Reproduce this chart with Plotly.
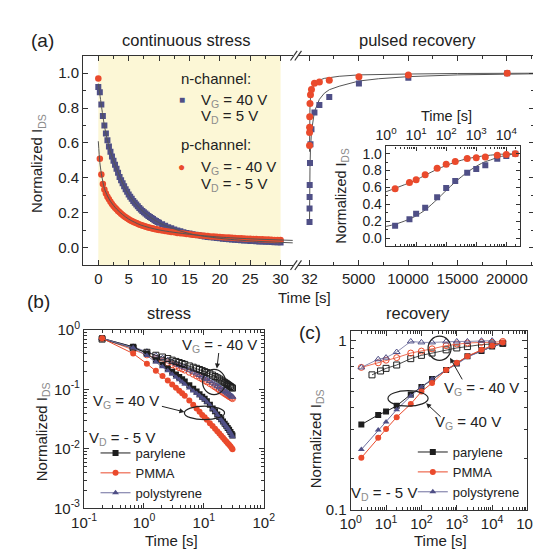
import plotly.graph_objects as go

W, H = 541, 550
FONT = "Liberation Sans, Arial, sans-serif"
TXT = "#222222"
SUBC = "#8c8c8c"
BLUE = "#4f4f86"
RED = "#ea4a2c"
BLACK = "#1e1e1e"
PSL = "#6e6e9e"
GRAY = "#555555"
YELLOW = "#fcf7d6"

# ---------------- panel (a): continuous stress ----------------
stress_t = [0, 0.25, 0.5, 0.75, 1, 1.25, 1.5, 1.75, 2, 2.25, 2.5, 2.75, 3, 3.25, 3.5, 3.75, 4,
            4.25, 4.5, 4.75, 5, 5.25, 5.5, 5.75, 6, 6.25, 6.5, 6.75, 7, 7.25, 7.5, 7.75, 8,
            8.25, 8.5, 8.75, 9, 9.25, 9.5, 9.75, 10,
            10.5, 11, 11.5, 12, 12.5, 13, 13.5, 14, 14.5, 15, 15.5, 16, 16.5, 17, 17.5, 18, 18.5, 19, 19.5, 20,
            20.5, 21, 21.5, 22, 22.5, 23, 23.5, 24, 24.5, 25, 25.5, 26, 26.5, 27, 27.5, 28, 28.5, 29, 29.5, 30]
stress_n = [0.92, 0.89, 0.82, 0.755, 0.70, 0.655, 0.615, 0.58, 0.55, 0.523, 0.498, 0.475, 0.453, 0.429, 0.405, 0.387, 0.37,
            0.352, 0.335, 0.32, 0.305, 0.292, 0.28, 0.268, 0.257, 0.247, 0.237, 0.228, 0.219, 0.211, 0.203, 0.196, 0.189,
            0.182, 0.176, 0.17, 0.164, 0.158, 0.153, 0.148, 0.143,
            0.134, 0.126, 0.118, 0.111, 0.105, 0.099, 0.094, 0.089, 0.085, 0.081, 0.077, 0.074, 0.071, 0.068, 0.065, 0.062, 0.06, 0.058, 0.056, 0.054,
            0.052, 0.05, 0.049, 0.047, 0.046, 0.044, 0.043, 0.042, 0.041, 0.039, 0.038, 0.037, 0.036, 0.035, 0.034, 0.034, 0.033, 0.032, 0.031, 0.03]
stress_p = [0.97, 0.51, 0.42, 0.365, 0.333, 0.31, 0.292, 0.277, 0.263, 0.25, 0.239, 0.229, 0.22, 0.211, 0.203, 0.195, 0.188,
            0.181, 0.175, 0.169, 0.163, 0.158, 0.153, 0.149, 0.145, 0.141, 0.137, 0.133, 0.13, 0.127, 0.124, 0.121, 0.119,
            0.116, 0.114, 0.112, 0.11, 0.108, 0.106, 0.104, 0.102,
            0.099, 0.096, 0.093, 0.09, 0.088, 0.085, 0.083, 0.081, 0.079, 0.077, 0.075, 0.073, 0.072, 0.07, 0.068, 0.067, 0.065, 0.064, 0.063, 0.061,
            0.06, 0.059, 0.058, 0.057, 0.056, 0.055, 0.054, 0.053, 0.052, 0.051, 0.05, 0.05, 0.049, 0.048, 0.047, 0.047, 0.046, 0.045, 0.045, 0.044]
stress_fit_t = [0, 0.25, 0.5, 1, 1.5, 2, 3, 4, 5, 7, 10, 15, 20, 25, 32]
stress_fit_n = [0.94, 0.88, 0.815, 0.70, 0.615, 0.55, 0.453, 0.37, 0.305, 0.219, 0.143, 0.081, 0.054, 0.039, 0.028]
stress_fit_p = [0.61, 0.49, 0.425, 0.34, 0.297, 0.266, 0.222, 0.19, 0.164, 0.13, 0.102, 0.077, 0.061, 0.051, 0.042]
STRESS_END = 30

# ---------------- panel (a): pulsed recovery (+ inset) ----------------
rec_t = [2, 6, 10, 20, 50, 100, 200, 500, 1000, 2000, 5000, 10000, 20000]
rec_n = [0.147, 0.225, 0.29, 0.36, 0.485, 0.593, 0.678, 0.775, 0.817, 0.864, 0.94, 0.973, 1.0]
rec_p = [0.585, 0.66, 0.69, 0.75, 0.826, 0.876, 0.907, 0.942, 0.95, 0.96, 0.98, 0.99, 1.0]
rec_fit_t = [1, 2, 5, 10, 20, 50, 100, 200, 500, 1000, 1500, 2000, 3000, 5000, 7000, 10000, 15000, 20000, 25000]
rec_fit_n = [0.14, 0.165, 0.215, 0.265, 0.335, 0.46, 0.565, 0.665, 0.78, 0.85, 0.885, 0.905, 0.925, 0.955, 0.968, 0.98, 0.99, 0.995, 0.998]
rec_fit_p = [0.55, 0.59, 0.645, 0.69, 0.745, 0.815, 0.86, 0.9, 0.94, 0.96, 0.97, 0.975, 0.982, 0.99, 0.993, 0.995, 0.998, 1.0, 1.0]

# ---------------- panel (b): stress, log-log ----------------
b_t = [0.2, 0.66, 1.12, 1.58, 2.04, 2.5, 2.96, 3.42, 3.88, 4.34, 4.8,
       5.72, 6.64, 7.56, 8.48, 9.4, 10.32, 11.24,
       12.62, 14.0, 15.38, 16.76, 18.14, 19.52, 20.9, 22.28, 23.66, 25.04, 26.42, 27.8, 29.18, 30.1]
b_par_f = [0.72, 0.52, 0.40, 0.31, 0.26, 0.225, 0.198, 0.178, 0.162, 0.148, 0.136,
           0.117, 0.103, 0.092, 0.083, 0.075, 0.07, 0.063,
           0.055, 0.048, 0.043, 0.038, 0.0345, 0.0315, 0.029, 0.0265, 0.0245, 0.0225, 0.021, 0.0192, 0.0178, 0.0168]
b_pmma_f = [0.72, 0.40, 0.27, 0.205, 0.168, 0.141, 0.121, 0.107, 0.095, 0.086, 0.078,
            0.065, 0.055, 0.048, 0.042, 0.037, 0.034, 0.031,
            0.027, 0.0242, 0.0218, 0.0198, 0.0181, 0.0166, 0.0154, 0.0143, 0.0134, 0.0125, 0.0118, 0.0111, 0.0104, 0.0099]
b_ps_f = [0.72, 0.50, 0.37, 0.29, 0.24, 0.205, 0.18, 0.16, 0.145, 0.133, 0.122,
          0.106, 0.094, 0.085, 0.078, 0.072, 0.067, 0.061,
          0.054, 0.047, 0.042, 0.037, 0.0335, 0.0305, 0.028, 0.0258, 0.0238, 0.022, 0.0203, 0.0187, 0.0172, 0.016]
b_par_o = [0.70, 0.50, 0.42, 0.375, 0.35, 0.33, 0.31, 0.295, 0.283, 0.272, 0.263,
           0.248, 0.236, 0.226, 0.216, 0.207, 0.199, 0.192,
           0.183, 0.174, 0.165, 0.157, 0.15, 0.143, 0.137, 0.131, 0.126, 0.121, 0.116, 0.112, 0.108, 0.105]
b_pmma_o = [0.72, 0.47, 0.38, 0.33, 0.30, 0.278, 0.26, 0.245, 0.232, 0.221, 0.211,
            0.194, 0.18, 0.168, 0.158, 0.149, 0.141, 0.134,
            0.125, 0.117, 0.11, 0.104, 0.098, 0.093, 0.089, 0.085, 0.082, 0.079, 0.076, 0.074, 0.072, 0.07]
b_ps_o = [0.72, 0.52, 0.43, 0.37, 0.335, 0.31, 0.29, 0.272, 0.257, 0.244, 0.233,
          0.214, 0.199, 0.186, 0.175, 0.165, 0.157, 0.149,
          0.139, 0.13, 0.122, 0.115, 0.109, 0.103, 0.098, 0.094, 0.09, 0.086, 0.083, 0.08, 0.077, 0.075]

# ---------------- panel (c): recovery, log-log ----------------
c_t = [2, 6, 10, 20, 50, 100, 200, 500, 1000, 2000, 5000, 10000, 20000]
c_par_o_t = [4, 7, 10, 20, 50, 100, 200, 500, 1000, 2000, 5000, 10000, 20000]
c_ps_o_t = [2, 6, 10, 20, 50, 100, 200, 500, 1000, 2000, 5000, 10000]
c_par_f = [0.319, 0.364, 0.381, 0.412, 0.481, 0.533, 0.593, 0.671, 0.733, 0.809, 0.868, 0.923, 0.964]
c_pmma_f = [0.203, 0.267, 0.30, 0.353, 0.422, 0.50, 0.562, 0.671, 0.74, 0.81, 0.883, 0.935, 0.977]
c_ps_f = [0.227, 0.296, 0.33, 0.391, 0.471, 0.533, 0.593, 0.671, 0.725, 0.80, 0.868, 0.923, 0.964]
c_par_o = [0.628, 0.662, 0.686, 0.718, 0.783, 0.819, 0.845, 0.883, 0.906, 0.923, 0.948, 0.956, 0.964]
c_pmma_o = [0.695, 0.74, 0.767, 0.794, 0.845, 0.868, 0.895, 0.935, 0.956, 0.969, 0.977, 0.977, 0.99]
c_ps_o = [0.695, 0.777, 0.794, 0.857, 0.99, 0.977, 0.977, 0.99, 0.99, 0.99, 1.0, 1.0]

materials = ["parylene", "PMMA", "polystyrene"]


def X(px):
    return px / W


def Y(py):
    return 1 - py / H


def sup_labels(exps):
    return ["10<sup>%d</sup>" % e for e in exps]


def log_minor(lo, hi):
    vals = []
    for e in range(lo, hi):
        for m in range(2, 10):
            vals.append(m * 10 ** e)
    return vals


fig = go.Figure()

# ---- (a) stress segment
fig.add_trace(go.Scatter(x=stress_t, y=stress_n, mode="markers", xaxis="x", yaxis="y",
                         marker=dict(symbol="square", size=6, color=BLUE), showlegend=False))
fig.add_trace(go.Scatter(x=stress_t, y=stress_p, mode="markers", xaxis="x", yaxis="y",
                         marker=dict(symbol="circle", size=6.5, color=RED), showlegend=False))
for fy in (stress_fit_n, stress_fit_p):
    fig.add_trace(go.Scatter(x=stress_fit_t, y=fy, mode="lines", xaxis="x", yaxis="y",
                             line=dict(color=GRAY, width=1, shape="spline", smoothing=0.8),
                             showlegend=False))

# ---- (a) recovery segment
rec_x = [STRESS_END + t for t in rec_t]
rec_fit_x = [STRESS_END + t for t in rec_fit_t]
for fy in (rec_fit_n, rec_fit_p):
    fig.add_trace(go.Scatter(x=rec_fit_x, y=fy, mode="lines", xaxis="x2", yaxis="y2",
                             line=dict(color=GRAY, width=1), showlegend=False))
fig.add_trace(go.Scatter(x=rec_x, y=rec_n, mode="markers", xaxis="x2", yaxis="y2",
                         marker=dict(symbol="square", size=6, color=BLUE), showlegend=False))
fig.add_trace(go.Scatter(x=rec_x, y=rec_p, mode="markers", xaxis="x2", yaxis="y2",
                         marker=dict(symbol="circle", size=7, color=RED), showlegend=False))

# ---- (a) inset
for fy in (rec_fit_n, rec_fit_p):
    fig.add_trace(go.Scatter(x=rec_fit_t, y=fy, mode="lines", xaxis="x3", yaxis="y3",
                             line=dict(color=GRAY, width=1, shape="spline", smoothing=0.8),
                             showlegend=False))
fig.add_trace(go.Scatter(x=rec_t, y=rec_n, mode="markers", xaxis="x3", yaxis="y3",
                         marker=dict(symbol="square", size=6, color=BLUE), showlegend=False))
fig.add_trace(go.Scatter(x=rec_t, y=rec_p, mode="markers", xaxis="x3", yaxis="y3",
                         marker=dict(symbol="circle", size=7, color=RED), showlegend=False))

# ---- (b)
colors = {"parylene": BLACK, "PMMA": RED, "polystyrene": BLUE}
lines = {"parylene": BLACK, "PMMA": RED, "polystyrene": PSL}
symbols = {"parylene": "square", "PMMA": "circle", "polystyrene": "triangle-up"}
b_open = {"parylene": b_par_o, "PMMA": b_pmma_o, "polystyrene": b_ps_o}
b_fill = {"parylene": b_par_f, "PMMA": b_pmma_f, "polystyrene": b_ps_f}
for m in ["PMMA", "polystyrene", "parylene"]:
    fig.add_trace(go.Scatter(x=b_t, y=b_open[m], mode="lines+markers", xaxis="x4", yaxis="y4",
                             line=dict(color=lines[m], width=0.8),
                             marker=dict(symbol=symbols[m] + "-open", size=6, color=colors[m],
                                         line=dict(width=1, color=colors[m])),
                             showlegend=False))
rank = {"parylene": 1, "PMMA": 2, "polystyrene": 3}
for m in ["parylene", "polystyrene", "PMMA"]:
    fig.add_trace(go.Scatter(x=b_t, y=b_fill[m], mode="lines+markers", xaxis="x4", yaxis="y4",
                             line=dict(color=lines[m], width=1),
                             marker=dict(symbol=symbols[m], size=6, color=colors[m]),
                             name=m, legend="legend", legendrank=rank[m], showlegend=True))

# ---- (c)
c_open = {"parylene": (c_par_o_t, c_par_o), "PMMA": (c_t, c_pmma_o), "polystyrene": (c_ps_o_t, c_ps_o)}
c_fill = {"parylene": c_par_f, "PMMA": c_pmma_f, "polystyrene": c_ps_f}
for m in ["parylene", "PMMA", "polystyrene"]:
    tx, ty = c_open[m]
    fig.add_trace(go.Scatter(x=tx, y=ty, mode="lines+markers", xaxis="x5", yaxis="y5",
                             line=dict(color=lines[m], width=0.8),
                             marker=dict(symbol=symbols[m] + "-open", size=6, color=colors[m],
                                         line=dict(width=1, color=colors[m])),
                             showlegend=False))
for m in ["parylene", "polystyrene", "PMMA"]:
    fig.add_trace(go.Scatter(x=c_t, y=c_fill[m], mode="lines+markers", xaxis="x5", yaxis="y5",
                             line=dict(color=lines[m], width=1),
                             marker=dict(symbol=symbols[m], size=6, color=colors[m]),
                             name=m, legend="legend2", legendrank=rank[m], showlegend=True))

# ---------------- axes ----------------
tickfont = dict(family=FONT, size=15, color=TXT)
base = dict(showline=True, linecolor="#333333", linewidth=1.2, ticks="inside", ticklen=5,
            tickwidth=1, tickcolor="#333333", showgrid=False, zeroline=False, tickfont=tickfont)

ya_dom = [Y(255), Y(38)]
ya_vals = [0, 0.2, 0.4, 0.6, 0.8, 1.0]
ya_text = ["%.1f" % v for v in ya_vals]
ya_minor = dict(ticks="inside", ticklen=3, tickcolor="#333333", dtick=0.1, tick0=0)

fig.update_layout(
    xaxis=dict(base, domain=[X(65), X(285)], range=[-2.5, 32.1], anchor="y",
               tickvals=[0, 5, 10, 15, 20, 25, 30], mirror="allticks",
               minor=dict(ticks="inside", ticklen=3, tickcolor="#333333", dtick=2.5, tick0=0)),
    yaxis=dict(base, domain=ya_dom, range=[-0.1, 1.1], anchor="x", tickvals=ya_vals,
               ticktext=ya_text, minor=ya_minor),
    xaxis2=dict(base, domain=[X(290), X(537)], range=[-1120, 22760], anchor="y2",
                tickvals=[32, 5000, 10000, 15000, 20000], ticktext=["32", "5000", "10000", "15000", "20000"],
                mirror="allticks",
                minor=dict(ticks="inside", ticklen=3, tickcolor="#333333",
                           tickvals=[2500, 7500, 12500, 17500, 22500])),
    yaxis2=dict(base, domain=ya_dom, range=[-0.1, 1.1], anchor="x2", side="right",
                tickvals=ya_vals, showticklabels=False, minor=ya_minor),
    xaxis3=dict(base, domain=[X(381.7), X(522)], type="log", range=[-0.01, 4.45], anchor="y3",
                side="top", tickvals=[1, 10, 100, 1000, 10000], ticktext=sup_labels(range(0, 5)),
                mirror="allticks", tickfont=dict(family=FONT, size=14, color=TXT), ticklen=4,
                minor=dict(ticks="inside", ticklen=2, tickcolor="#333333", tickvals=log_minor(0, 5))),
    yaxis3=dict(base, domain=[Y(235), Y(132)], range=[-0.09, 1.085], anchor="x3",
                tickvals=ya_vals, ticktext=ya_text, mirror="allticks", ticklen=4,
                tickfont=dict(family=FONT, size=14, color=TXT),
                minor=dict(ticks="inside", ticklen=2, tickcolor="#333333", dtick=0.1, tick0=0)),
    xaxis4=dict(base, domain=[X(66), X(254)], type="log", range=[-1, 2], anchor="y4",
                tickvals=[0.1, 1, 10, 100], ticktext=sup_labels([-1, 0, 1, 2]), mirror="allticks",
                minor=dict(ticks="inside", ticklen=3, tickcolor="#333333", tickvals=log_minor(-1, 2))),
    yaxis4=dict(base, domain=[Y(507), Y(322)], type="log", range=[-3, 0], anchor="x4",
                tickvals=[0.001, 0.01, 0.1, 1], ticktext=sup_labels([-3, -2, -1, 0]), mirror="allticks",
                minor=dict(ticks="inside", ticklen=3, tickcolor="#333333", tickvals=log_minor(-3, 0))),
    xaxis5=dict(base, domain=[X(345), X(530)], type="log", range=[0, 5], anchor="y5",
                tickvals=[1, 10, 100, 1000, 10000, 100000], ticktext=sup_labels(range(0, 6)),
                mirror="allticks",
                minor=dict(ticks="inside", ticklen=3, tickcolor="#333333", tickvals=log_minor(0, 5))),
    yaxis5=dict(base, domain=[Y(508.3), Y(322.7)], type="log", range=[-1, 0.06], anchor="x5",
                tickvals=[0.1, 1], ticktext=["0.1", "1"], mirror="allticks",
                minor=dict(ticks="inside", ticklen=3, tickcolor="#333333", tickvals=log_minor(-1, 0))),
)

# ---------------- shapes ----------------
shapes = [dict(type="rect", xref="x", yref="y domain", x0=0, x1=STRESS_END, y0=0, y1=1,
               fillcolor=YELLOW, line=dict(width=0), layer="below")]
for by in (38, 255):
    for dx in (0, 4.5):
        shapes.append(dict(type="line", xref="paper", yref="paper",
                           x0=X(282 + dx), y0=Y(by + 5), x1=X(289 + dx), y1=Y(by - 5),
                           line=dict(color="#333333", width=1.2)))
ellipses = [(202, 376, 12, 13), (192, 408, 21, 7), (438, 341, 12, 12.5), (405, 393, 21, 8)]
for cx, cy, rx, ry in ellipses:
    shapes.append(dict(type="circle", xref="paper", yref="paper",
                       x0=X(cx - rx), x1=X(cx + rx), y0=Y(cy + ry), y1=Y(cy - ry),
                       line=dict(color="#222222", width=1.2)))
fig.update_layout(shapes=shapes)

# ---------------- annotations ----------------
ann = []


def text(px, py, s, size=15, xanchor="center", angle=0, color=TXT):
    ann.append(dict(x=X(px), y=Y(py), xref="paper", yref="paper", text=s, showarrow=False,
                    xanchor=xanchor, yanchor="middle", textangle=angle,
                    font=dict(family=FONT, size=size, color=color)))


def arrow(hx, hy, tx, ty):
    ann.append(dict(x=X(hx), y=Y(hy), xref="paper", yref="paper", text="", showarrow=True,
                    axref="pixel", ayref="pixel", ax=tx - hx, ay=ty - hy,
                    arrowhead=2, arrowsize=1, arrowwidth=1, arrowcolor="#222222"))


def sub(letter):
    return "<sub><span style='color:%s'>%s</span></sub>" % (SUBC, letter)


nds = "Normalized I" + sub("DS")
text(22, 22, "(a)", 19)
text(173, 22, "continuous stress", 16.5)
text(415, 22, "pulsed recovery", 16.5)
text(18, 150, nds, 15, angle=-90)
text(297, 288, "Time [s]", 15)
text(445, 100, "Time [s]", 14.5)
text(336, 183, nds, 14.5, angle=-90)
text(165, 62, "n-channel:", 15, xanchor="left")
text(168, 83, "■", 10, color=BLUE)
text(186, 84, "V" + sub("G") + " = 40 V", 15, xanchor="left")
text(186, 101, "V" + sub("D") + " = 5 V", 15, xanchor="left")
text(165, 130, "p-channel:", 15, xanchor="left")
text(168, 153, "●", 12, color=RED)
text(186, 154, "V" + sub("G") + " = - 40 V", 15, xanchor="left")
text(186, 171, "V" + sub("D") + " = - 5 V", 15, xanchor="left")

text(18, 293, "(b)", 19)
text(155, 305, "stress", 16.5)
text(22, 428, nds, 15, angle=-90)
text(157, 540, "Time [s]", 15)
text(208, 338, "V" + sub("G") + " = - 40 V", 15)
text(110, 396, "V" + sub("G") + " = 40 V", 15)
text(106, 435, "V" + sub("D") + " = - 5 V", 15)
arrow(205, 362, 207, 345)
arrow(171, 407, 147, 401)

text(302, 325, "(c)", 19)
text(415, 305, "recovery", 16.5)
text(310, 435, nds, 15, angle=-90)
text(439, 540, "Time [s]", 15)
text(482, 383, "V" + sub("G") + " = - 40 V", 15)
text(468, 418, "V" + sub("G") + " = 40 V", 15)
text(380, 491, "V" + sub("D") + " = - 5 V", 15)
arrow(449, 351, 462, 374)
arrow(424, 398, 440, 413)
fig.update_layout(annotations=ann)

legfont = dict(family=FONT, size=13, color=TXT)
fig.update_layout(
    legend=dict(x=X(78), y=Y(434), xanchor="left", yanchor="top", bgcolor="rgba(0,0,0,0)",
                font=legfont, tracegroupgap=0, itemwidth=30),
    legend2=dict(x=X(410), y=Y(433), xanchor="left", yanchor="top", bgcolor="rgba(0,0,0,0)",
                 font=legfont, tracegroupgap=0, itemwidth=30),
    width=W, height=H, margin=dict(l=0, r=0, t=0, b=0),
    paper_bgcolor="white", plot_bgcolor="white",
    font=dict(family=FONT, color=TXT),
)

fig.write_html("out.html")
